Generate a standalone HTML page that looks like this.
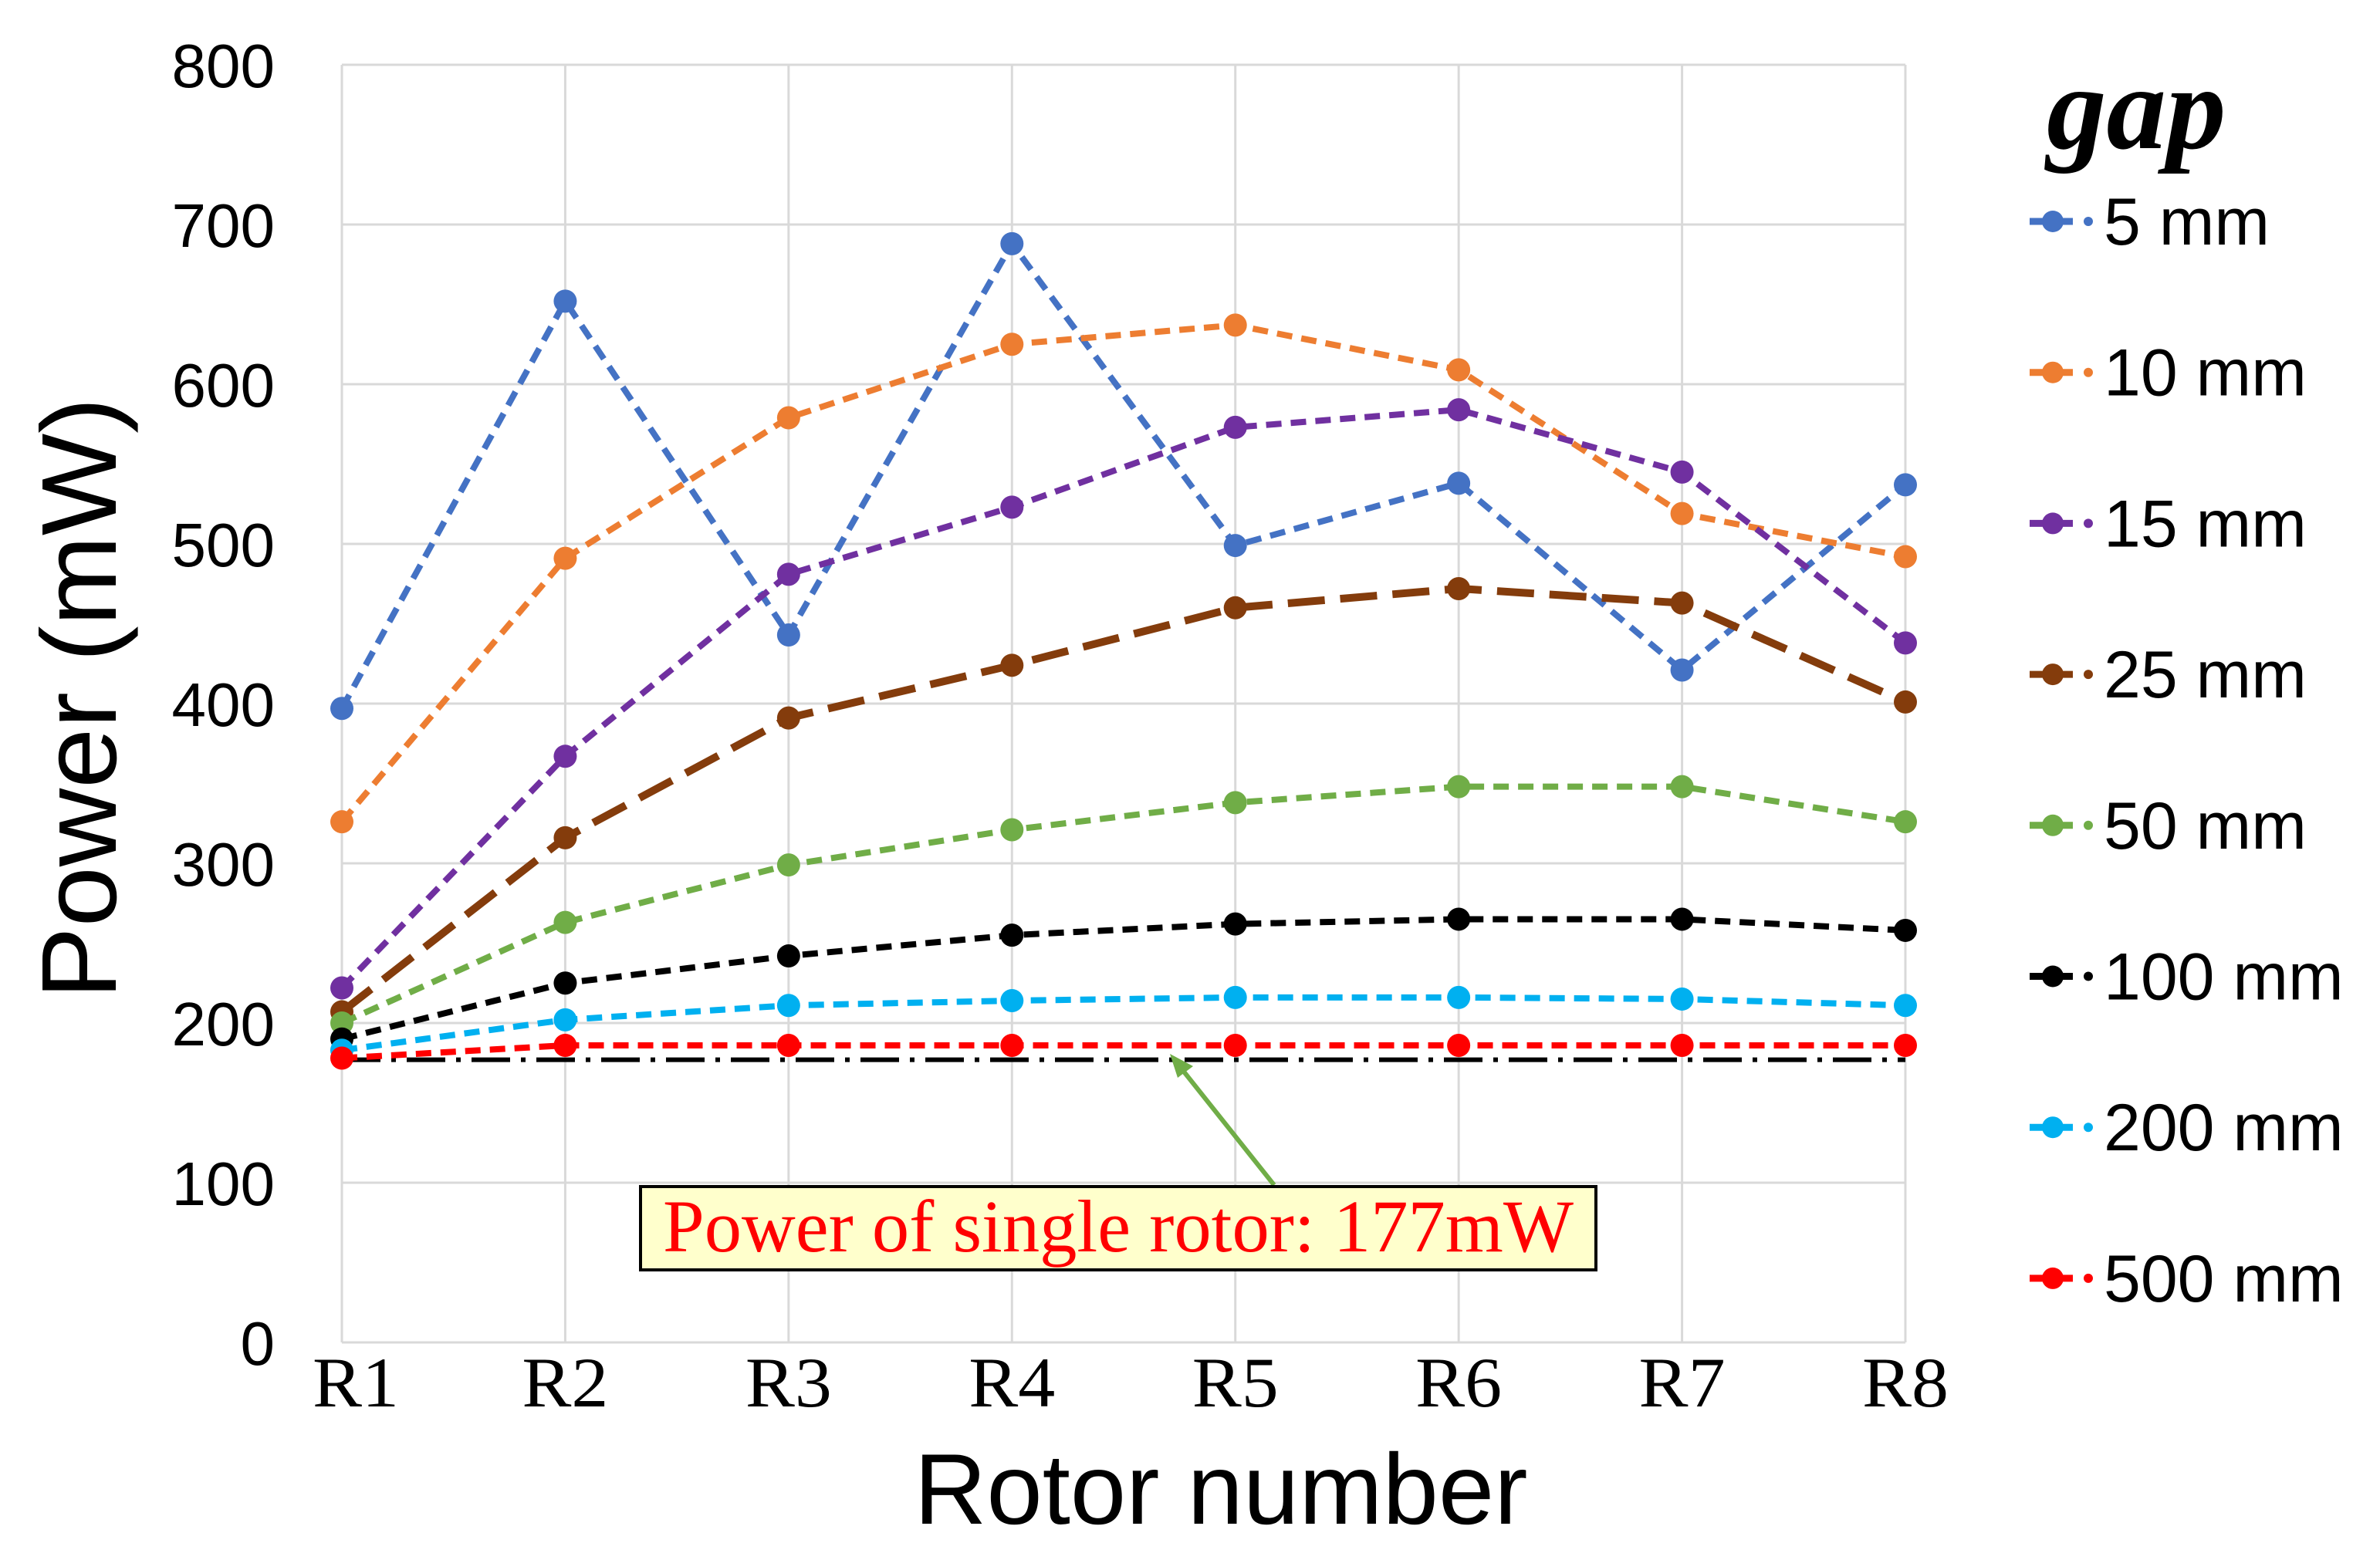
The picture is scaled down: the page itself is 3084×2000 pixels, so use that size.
<!DOCTYPE html>
<html><head><meta charset="utf-8"><style>
html,body{margin:0;padding:0;background:#fff;}
svg{display:block;}
</style></head><body>
<svg id="chart" width="3084" height="2000" viewBox="0 0 3084 2000" xmlns="http://www.w3.org/2000/svg">
<rect width="3084" height="2000" fill="#fff"/>
<g id="grid"></g>
<g id="yticks" font-family="Liberation Sans, sans-serif" font-size="80" fill="#000" text-anchor="end"></g>
<g id="xticks" font-family="Liberation Serif, serif" font-size="92" fill="#000" text-anchor="middle"></g>
<text transform="translate(150,905) rotate(-90)" font-family="Liberation Sans, sans-serif" font-size="138" text-anchor="middle" textLength="780" lengthAdjust="spacingAndGlyphs">Power (mW)</text>
<text x="1582" y="1975" font-family="Liberation Sans, sans-serif" font-size="130" text-anchor="middle" textLength="795" lengthAdjust="spacingAndGlyphs">Rotor number</text>
<g id="series"></g>
<g id="legend">
<text x="2652" y="192" font-family="Liberation Serif, serif" font-size="155" font-weight="bold" font-style="italic">gap</text>
</g>
<g>
<line x1="1651" y1="1536" x2="1530" y2="1384" stroke="#70AD47" stroke-width="6"/>
<polygon points="1516,1366 1546,1382 1526,1397" fill="#70AD47"/>
<rect x="830" y="1538" width="1238" height="108" fill="#FFFFCC" stroke="#000" stroke-width="4"/>
<text x="1449" y="1622" font-family="Liberation Serif, serif" font-size="96" fill="#FF0000" text-anchor="middle" textLength="1180" lengthAdjust="spacingAndGlyphs">Power of single rotor:  177mW</text>
</g>
</svg>
<script>
const categories = ["R1","R2","R3","R4","R5","R6","R7","R8"];
const yTicks = [0,100,200,300,400,500,600,700,800];
const seriesNames = ["5 mm","10 mm","15 mm","25 mm","50 mm","100 mm","200 mm","500 mm"];
const seriesColors = ["#4472C4","#ED7D31","#7030A0","#843C0C","#70AD47","#000000","#00B0F0","#FF0000"];
const s5 = [397,652,443,688,499,538,421,537];
const s10 = [326,491,579,625,637,609,519,492];
const s15 = [222,367,481,523,573,584,545,438];
const s25 = [207,316,391,424,460,472,463,401];
const s50 = [200,263,299,321,338,348,348,326];
const s100 = [190,225,242,255,262,265,265,258];
const s200 = [183,202,211,214,216,216,215,211];
const s500 = [178,186,186,186,186,186,186,186];
const singleRotor = 177;

const seriesValues = [s5,s10,s15,s25,s50,s100,s200,s500];
const NS = "http://www.w3.org/2000/svg";
const X0 = 443, X1 = 2469, Y0 = 1740, Y1 = 84, YMAX = 800;
function xs(i){ return X0 + i*(X1-X0)/(categories.length-1); }
function ys(v){ return Y0 - v*(Y0-Y1)/YMAX; }
function mk(tag, attrs, parent){ const e=document.createElementNS(NS,tag); for(const k in attrs) e.setAttribute(k,attrs[k]); parent.appendChild(e); return e; }

const grid=document.getElementById('grid');
yTicks.forEach(t=>{
  const l=mk('line',{x1:X0,x2:X1,y1:ys(t),y2:ys(t),stroke:'#d9d9d9','stroke-width':3},grid);
  
  
  const tx=mk('text',{x:356,y:ys(t)+29},document.getElementById('yticks'));
  tx.textContent=t;
  
  
});
categories.forEach((c,i)=>{
  const l=mk('line',{x1:xs(i),x2:xs(i),y1:Y1,y2:Y0,stroke:'#d9d9d9','stroke-width':3},grid);
  
  
  const tx=mk('text',{x:xs(i)+(i==0?18:0),y:1823,textLength:112,lengthAdjust:'spacingAndGlyphs'},document.getElementById('xticks'));
  tx.textContent=c;
  
  
});

const sg=document.getElementById('series');
const ref=mk('line',{x1:X0,x2:X1,y1:ys(singleRotor),y2:ys(singleRotor),stroke:'#000','stroke-width':6,'stroke-dasharray':'50,14,6,14'},sg);



for(let s=0;s<seriesValues.length;s++){
  const vals=seriesValues[s], col=seriesColors[s];
  const g=mk('g',{},sg);
  
  
  const pts=vals.map((v,i)=>xs(i)+','+ys(v)).join(' ');
  const dash = s===3 ? '48,20' : '20,12';
  const pl=mk('polyline',{points:pts,fill:'none',stroke:col,'stroke-width':s===3?10:8,'stroke-dasharray':dash},g);
  
  
  vals.forEach((v,i)=>{
    const c=mk('circle',{cx:xs(i),cy:ys(v),r:15,fill:col},g);
    
    
  });
  const lg=document.getElementById('legend');
  const ly=287 + s*195.7;
  const ent=mk('g',{},lg);
  
  
  mk('line',{x1:2630,x2:2686,y1:ly,y2:ly,stroke:col,'stroke-width':9},ent);
  mk('circle',{cx:2660,cy:ly,r:14,fill:col},ent);
  mk('circle',{cx:2706,cy:ly,r:6,fill:col},ent);
  const t=mk('text',{x:2726,y:ly+30,'font-family':'Liberation Sans, sans-serif','font-size':86,fill:'#000'},ent);
  t.textContent=seriesNames[s];
}
</script>
</body></html>
